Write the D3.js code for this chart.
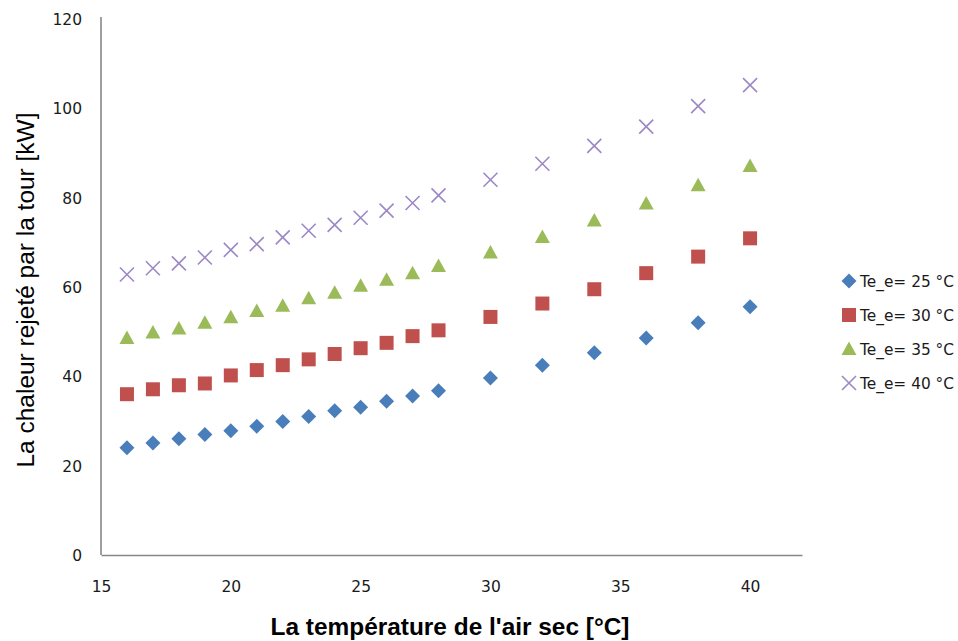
<!DOCTYPE html>
<html>
<head>
<meta charset="utf-8">
<script src="https://cdn.jsdelivr.net/npm/d3@7"></script>
<style>
  html, body { margin: 0; padding: 0; background: #fff; }
  svg { display: block; }
</style>
</head>
<body>
<svg id="chart" width="958" height="641"></svg>
<script>
// Air dry-bulb temperature [°C]
const temperatures = [16, 17, 18, 19, 20, 21, 22, 23, 24, 25, 26, 27, 28, 30, 32, 34, 36, 38, 40];

// Heat rejected by the tower [kW] for each water inlet temperature
const heat25 = [24.0, 25.1, 26.0, 27.0, 27.8, 28.8, 29.9, 31.0, 32.3, 33.1, 34.4, 35.6, 36.8, 39.6, 42.5, 45.3, 48.6, 52.0, 55.6];
const heat30 = [36.0, 37.1, 38.0, 38.4, 40.2, 41.4, 42.5, 43.8, 45.0, 46.3, 47.5, 49.0, 50.3, 53.3, 56.3, 59.5, 63.1, 66.8, 70.9];
const heat35 = [48.6, 49.8, 50.7, 52.0, 53.2, 54.6, 55.8, 57.5, 58.7, 60.3, 61.6, 63.1, 64.7, 67.7, 71.2, 74.9, 78.7, 82.8, 87.1];
const heat40 = [62.8, 64.2, 65.3, 66.6, 68.3, 69.6, 71.1, 72.6, 73.9, 75.5, 77.1, 78.8, 80.5, 84.0, 87.6, 91.6, 95.9, 100.5, 105.2];

const seriesNames = ["Te_e= 25 °C", "Te_e= 30 °C", "Te_e= 35 °C", "Te_e= 40 °C"];
const xTicks = [15, 20, 25, 30, 35, 40];
const yTicks = [0, 20, 40, 60, 80, 100, 120];

const xTitle = "La température de l'air sec [°C]";
const yTitle = "La chaleur rejeté par la tour [kW]";

const seriesValues = [heat25, heat30, heat35, heat40];
const colors = ["#4a7ebb", "#c0504d", "#9bbb59", "#9c88c4"];
const shapes = ["diamond", "square", "triangle", "cross"];

const svg = d3.select("#chart");

const plot = { left: 101, right: 802, top: 19, bottom: 555 };
const x = d3.scaleLinear().domain([15, 42]).range([plot.left, plot.right]);
const y = d3.scaleLinear().domain([0, 120]).range([plot.bottom, plot.top]);

const tickFont = "'DejaVu Sans', Verdana, sans-serif";

// Axes: plain grey lines, no tick marks
const xAxis = svg.append("g")
  .attr("transform", `translate(0,${plot.bottom})`)
  .call(d3.axisBottom(x).tickValues(xTicks).tickSize(0).tickPadding(0).tickFormat(d3.format("d")));
xAxis.select(".domain").attr("stroke", "#878787").attr("stroke-width", 1.6);
xAxis.selectAll("text")
  .attr("y", 37).attr("dy", null)
  .attr("fill", "#1a1a1a")
  .style("font-family", tickFont).style("font-size", "15.5px");

const yAxis = svg.append("g")
  .attr("transform", `translate(${plot.left},0)`)
  .call(d3.axisLeft(y).tickValues(yTicks).tickSize(0).tickPadding(19).tickFormat(d3.format("d")));
yAxis.select(".domain").attr("stroke", "#878787").attr("stroke-width", 1.6)
  .attr("d", `M0,${plot.bottom}V${plot.top - 2}`);
yAxis.selectAll("text")
  .attr("dy", "0.36em")
  .attr("fill", "#1a1a1a")
  .style("font-family", tickFont).style("font-size", "15.5px");

// Marker shape paths centred on the origin
function markerPath(shape) {
  switch (shape) {
    case "diamond": return "M0,-7.5L7.5,0L0,7.5L-7.5,0Z";
    case "square": return "M-7,-7H7V7H-7Z";
    case "triangle": return "M0,-7.5L7.5,6L-7.5,6Z";
    case "cross": return "M-7,-7L7,7M7,-7L-7,7";
  }
}

function drawMarker(sel, i) {
  const s = shapes[i];
  sel.attr("d", markerPath(s));
  if (s === "cross") {
    sel.attr("fill", "none").attr("stroke", colors[i]).attr("stroke-width", 1.6);
  } else {
    sel.attr("fill", colors[i]).attr("stroke", "none");
  }
}

// Data points
seriesValues.forEach((vals, i) => {
  svg.append("g").attr("class", "series-" + i)
    .selectAll("path")
    .data(temperatures.map((t, k) => ({ t, v: vals[k] })))
    .join("path")
    .attr("transform", d => `translate(${x(d.t)},${y(d.v)})`)
    .call(drawMarker, i);
});

// Legend
const legend = svg.append("g").attr("transform", "translate(849,281)");
seriesNames.forEach((name, i) => {
  const row = legend.append("g").attr("transform", `translate(0,${i * 34})`);
  row.append("path").call(drawMarker, i);
  row.append("text")
    .attr("x", 11).attr("y", 6)
    .attr("textLength", 94).attr("lengthAdjust", "spacingAndGlyphs")
    .attr("fill", "#1a1a1a")
    .style("font-family", tickFont).style("font-size", "15.5px")
    .text(name);
});

// Axis titles
svg.append("text")
  .attr("x", 450).attr("y", 635)
  .attr("text-anchor", "middle")
  .attr("textLength", 359).attr("lengthAdjust", "spacingAndGlyphs")
  .attr("fill", "#000")
  .style("font-family", "'Liberation Sans', Arial, sans-serif")
  .style("font-weight", "bold").style("font-size", "23px")
  .text(xTitle);

svg.append("text")
  .attr("transform", "translate(34,290) rotate(-90)")
  .attr("text-anchor", "middle")
  .attr("textLength", 355).attr("lengthAdjust", "spacingAndGlyphs")
  .attr("fill", "#000")
  .style("font-family", "'Liberation Sans', Arial, sans-serif")
  .style("font-size", "23px")
  .text(yTitle);
</script>
</body>
</html>
